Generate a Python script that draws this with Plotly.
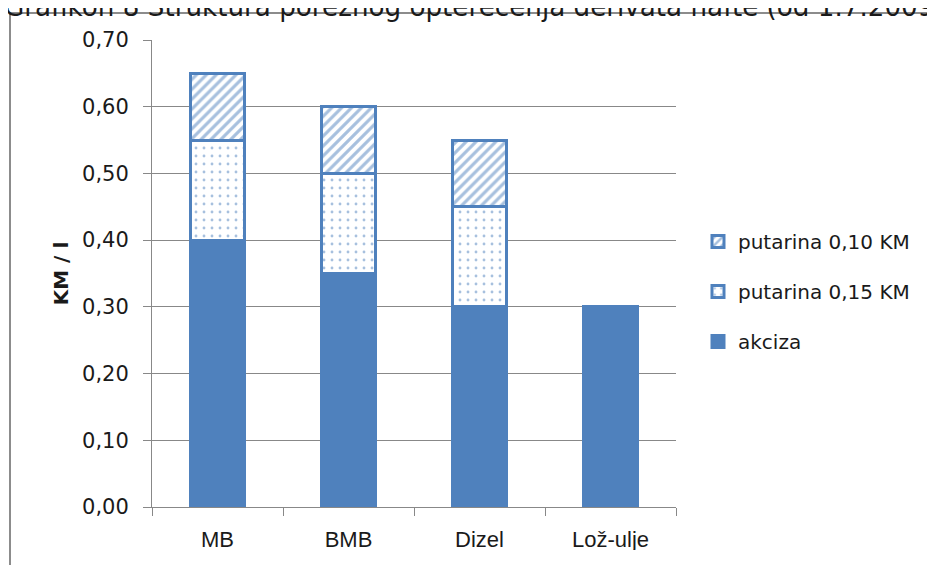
import plotly.graph_objects as go

categories = ["MB", "BMB", "Dizel", "Lož-ulje"]
akciza = [0.40, 0.35, 0.30, 0.30]
putarina_015 = [0.15, 0.15, 0.15, None]
putarina_010 = [0.10, 0.10, 0.10, None]

BLUE = "#4F81BD"
GRID = "#888888"
TXT = "#1a1a1a"

# the page body adds an 8px margin, so everything is laid out 8px up/left
OFF = 8
W, H = 935, 565
# plot area in screen pixels: x 152..676, y 40..507
L, R, T, B = 152 - OFF, 676 - OFF, 40 - OFF, 507 - OFF


def px_x(x):
    return (x - OFF - L) / (R - L)


def px_y(y):
    return (B - (y - OFF)) / (B - T)


fig = go.Figure()
fig.add_trace(go.Bar(
    x=categories, y=akciza, name="akciza", legendgroup="a", legendrank=3,
    marker=dict(color=BLUE, line=dict(color=BLUE, width=3)),
))
fig.add_trace(go.Bar(
    x=categories, y=putarina_015, name="putarina 0,15 KM", legendgroup="b", legendrank=2,
    marker=dict(color="white", line=dict(color=BLUE, width=3),
                pattern=dict(shape=".", fgcolor=BLUE, bgcolor="white", size=8, solidity=0.1)),
))
fig.add_trace(go.Bar(
    x=categories, y=putarina_010, name="putarina 0,10 KM", legendgroup="c", legendrank=1,
    marker=dict(color="white", line=dict(color=BLUE, width=3),
                pattern=dict(shape="/", fgcolor=BLUE, bgcolor="white", size=7, solidity=0.45)),
))

fig.update_layout(
    width=W, height=H,
    margin=dict(l=L, r=W - R, t=T, b=H - B, autoexpand=False),
    paper_bgcolor="white", plot_bgcolor="white",
    barmode="stack", bargap=0.59,
    separators=",.",
    font=dict(family="DejaVu Sans", size=21, color=TXT),
    legend=dict(
        x=px_x(698), y=px_y(222), xanchor="left", yanchor="top",
        traceorder="grouped", tracegroupgap=21,
        font=dict(family="DejaVu Sans", size=20, color=TXT),
        bgcolor="rgba(0,0,0,0)",
    ),
    showlegend=True,
)
fig.update_yaxes(
    range=[0, 0.70], dtick=0.1, tickformat=".2f",
    showgrid=True, gridcolor=GRID, gridwidth=1,
    showline=True, linecolor=GRID, linewidth=1,
    ticks="outside", ticklen=8, tickcolor=GRID, ticklabelstandoff=10,
    zeroline=False,
    title=dict(text="<b>KM / l</b>", standoff=8,
               font=dict(family="DejaVu Sans", size=20, color=TXT)),
)
fig.update_xaxes(
    showgrid=False, showline=True, linecolor=GRID, linewidth=1,
    ticks="outside", ticklen=8, tickcolor=GRID, tickson="boundaries",
    ticklabelstandoff=13,
    tickfont=dict(family="Liberation Sans", size=22, color=TXT),
)

# chart frame (left and top edges visible)
fig.add_shape(type="rect", xref="paper", yref="paper",
              x0=px_x(10), x1=px_x(1100), y0=px_y(700), y1=px_y(13),
              line=dict(color="#8c8c8c", width=2), fillcolor="rgba(0,0,0,0)", layer="below")
# image is cropped under the category labels
fig.add_shape(type="rect", xref="paper", yref="paper",
              x0=px_x(12), x1=px_x(960), y0=px_y(580), y1=px_y(550),
              line=dict(width=0), fillcolor="white", layer="above")

fig.add_annotation(
    text="Grafikon 8 Struktura poreznog opterećenja derivata nafte (od 1.7.2009. godine)",
    xref="paper", yref="paper", x=px_x(2), y=px_y(24), xanchor="left", yanchor="bottom",
    showarrow=False, font=dict(family="DejaVu Sans", size=26.2, color=TXT),
)

fig.write_html("out.html")
